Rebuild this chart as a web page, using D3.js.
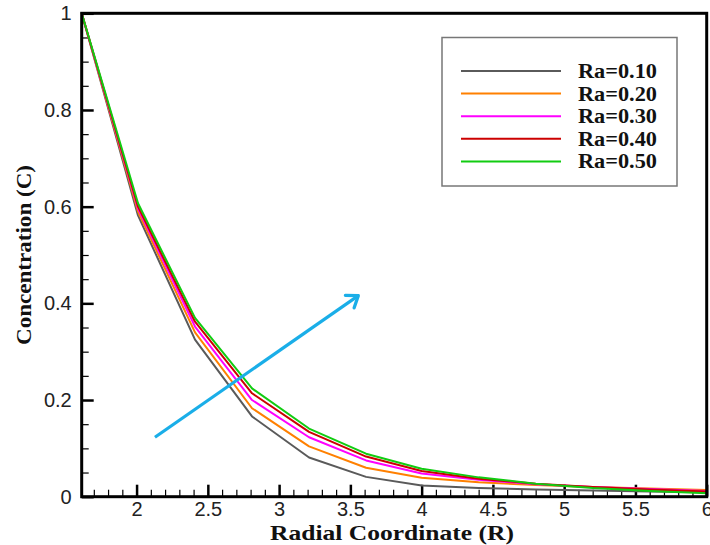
<!DOCTYPE html>
<html>
<head>
<meta charset="utf-8">
<script src="https://cdn.jsdelivr.net/npm/d3@7"></script>
<style>
	body { margin: 0; background: #fff; }
	svg { display: block; }
</style>
</head>
<body>
<svg id="chart"></svg>
<script>
// Radial positions of the computed nodes
const radius = [1.615, 2.01, 2.41, 2.81, 3.21, 3.61, 4.0, 4.4, 4.8, 5.2, 5.6, 6.0];

// Concentration for each Rayleigh number
const ra010 = [1, 0.582, 0.325, 0.166, 0.081, 0.041, 0.023, 0.018, 0.015, 0.013, 0.011, 0.009];
const ra020 = [1, 0.590, 0.340, 0.183, 0.104, 0.060, 0.039, 0.030, 0.024, 0.020, 0.017, 0.014];
const ra030 = [1, 0.596, 0.352, 0.200, 0.123, 0.075, 0.048, 0.035, 0.026, 0.020, 0.016, 0.012];
const ra040 = [1, 0.600, 0.362, 0.214, 0.134, 0.083, 0.053, 0.037, 0.027, 0.020, 0.015, 0.011];
const ra050 = [1, 0.607, 0.370, 0.224, 0.141, 0.089, 0.058, 0.040, 0.027, 0.018, 0.012, 0.007];

const seriesNames = ["Ra=0.10", "Ra=0.20", "Ra=0.30", "Ra=0.40", "Ra=0.50"];
const seriesColors = ["#5a5a5a", "#ff8000", "#ff00ff", "#cc0000", "#11cc11"];

const xTicks = [2, 2.5, 3, 3.5, 4, 4.5, 5, 5.5, 6];
const yTicks = [0, 0.2, 0.4, 0.6, 0.8, 1];

// arrow drawn in data units (start -> end)
const arrowFrom = [2.129, 0.123];
const arrowTo = [3.556, 0.416];

const series = [ra010, ra020, ra030, ra040, ra050].map((vals, i) => ({
	name: seriesNames[i],
	color: seriesColors[i],
	points: vals.map((c, j) => [radius[j], c])
}));

const width = 710;
const height = 545;
const margin = { top: 13.3, right: 3.3, bottom: 48.3, left: 81.7 };

const svg = d3.select("#chart")
	.attr("width", width)
	.attr("height", height);

const x = d3.scaleLinear()
	.domain([1.615, 6])
	.range([margin.left, width - margin.right]);

const y = d3.scaleLinear()
	.domain([0, 1])
	.range([height - margin.bottom, margin.top]);

// minor ticks
const xMinor = d3.range(1.7, 6.0001, 0.1).filter((v) => Math.abs(v * 2 - Math.round(v * 2)) > 0.01);
const yMinor = d3.range(0.05, 1, 0.05).filter((v) => Math.abs(v * 5 - Math.round(v * 5)) > 0.01);

svg.append("g")
	.attr("transform", `translate(0,${y(0)})`)
	.call(d3.axisBottom(x).tickValues(xMinor).tickSize(-7).tickFormat(""))
	.call((g) => g.select(".domain").remove())
	.call((g) => g.selectAll("line").attr("stroke", "#000").attr("stroke-width", 1.2));

svg.append("g")
	.attr("transform", `translate(${x.range()[0]},0)`)
	.call(d3.axisLeft(y).tickValues(yMinor).tickSize(-7).tickFormat(""))
	.call((g) => g.select(".domain").remove())
	.call((g) => g.selectAll("line").attr("stroke", "#000").attr("stroke-width", 1.2));

// major ticks + labels
svg.append("g")
	.attr("transform", `translate(0,${y(0)})`)
	.call(d3.axisBottom(x).tickValues(xTicks).tickSize(-12).tickPadding(5).tickFormat(d3.format("")))
	.call((g) => g.select(".domain").remove())
	.call((g) => g.selectAll("line").attr("stroke", "#000").attr("stroke-width", 2.5))
	.call((g) => g.selectAll("text")
		.attr("fill", "#222")
		.style("font-family", "'Liberation Sans', Arial, sans-serif")
		.style("font-size", "20px"));

svg.append("g")
	.attr("transform", `translate(${x.range()[0]},0)`)
	.call(d3.axisLeft(y).tickValues(yTicks).tickSize(-12).tickPadding(10).tickFormat(d3.format("")))
	.call((g) => g.select(".domain").remove())
	.call((g) => g.selectAll("line").attr("stroke", "#000").attr("stroke-width", 2.5))
	.call((g) => g.selectAll("text")
		.attr("fill", "#222")
		.style("font-family", "'Liberation Sans', Arial, sans-serif")
		.style("font-size", "20px"));

// curves
const line = d3.line()
	.x((d) => x(d[0]))
	.y((d) => y(d[1]));

svg.append("g")
	.selectAll("path")
	.data(series)
	.join("path")
	.attr("fill", "none")
	.attr("stroke", (d) => d.color)
	.attr("stroke-width", 2)
	.attr("stroke-linejoin", "round")
	.attr("d", (d) => line(d.points));

// frame
svg.append("rect")
	.attr("x", x.range()[0])
	.attr("y", y.range()[1])
	.attr("width", x.range()[1] - x.range()[0])
	.attr("height", y.range()[0] - y.range()[1])
	.attr("fill", "none")
	.attr("stroke", "#000")
	.attr("stroke-width", 3);

// arrow
const ax1 = x(arrowFrom[0]), ay1 = y(arrowFrom[1]);
const ax2 = x(arrowTo[0]), ay2 = y(arrowTo[1]);
const ang = Math.atan2(ay2 - ay1, ax2 - ax1);
const head = 13;
const spread = Math.PI / 5;

svg.append("line")
	.attr("x1", ax1).attr("y1", ay1)
	.attr("x2", ax2).attr("y2", ay2)
	.attr("stroke", "#1aaee8")
	.attr("stroke-width", 3.2);

svg.append("path")
	.attr("d", `M${ax2 - head * Math.cos(ang - spread)},${ay2 - head * Math.sin(ang - spread)}
		L${ax2},${ay2}
		L${ax2 - head * Math.cos(ang + spread)},${ay2 - head * Math.sin(ang + spread)}`)
	.attr("fill", "none")
	.attr("stroke", "#1aaee8")
	.attr("stroke-width", 3.2)
	.attr("stroke-linecap", "round")
	.attr("stroke-linejoin", "round");

// legend
const legend = svg.append("g");

legend.append("rect")
	.attr("x", 442)
	.attr("y", 37.5)
	.attr("width", 235)
	.attr("height", 148.5)
	.attr("fill", "#fff")
	.attr("stroke", "#777")
	.attr("stroke-width", 1.5);

const rows = legend.selectAll("g.row")
	.data(series)
	.join("g")
	.attr("class", "row")
	.attr("transform", (d, i) => `translate(0,${71 + i * 22.6})`);

rows.append("line")
	.attr("x1", 461)
	.attr("x2", 561)
	.attr("stroke", (d) => d.color)
	.attr("stroke-width", 2);

rows.append("text")
	.attr("x", 578)
	.attr("dy", "0.35em")
	.attr("textLength", 79)
	.attr("lengthAdjust", "spacingAndGlyphs")
	.style("font-family", "'Liberation Serif', 'Times New Roman', serif")
	.style("font-weight", "bold")
	.style("font-size", "20px")
	.attr("fill", "#111")
	.text((d) => d.name);

// axis titles
svg.append("text")
	.attr("x", 392)
	.attr("y", 540)
	.attr("text-anchor", "middle")
	.attr("textLength", 244)
	.attr("lengthAdjust", "spacingAndGlyphs")
	.style("font-family", "'Liberation Serif', 'Times New Roman', serif")
	.style("font-weight", "bold")
	.style("font-size", "21px")
	.attr("fill", "#111")
	.text("Radial Coordinate (R)");

svg.append("text")
	.attr("transform", `translate(31,255) rotate(-90)`)
	.attr("text-anchor", "middle")
	.attr("textLength", 180)
	.attr("lengthAdjust", "spacingAndGlyphs")
	.style("font-family", "'Liberation Serif', 'Times New Roman', serif")
	.style("font-weight", "bold")
	.style("font-size", "22px")
	.attr("fill", "#111")
	.text("Concentration (C)");
</script>
</body>
</html>
